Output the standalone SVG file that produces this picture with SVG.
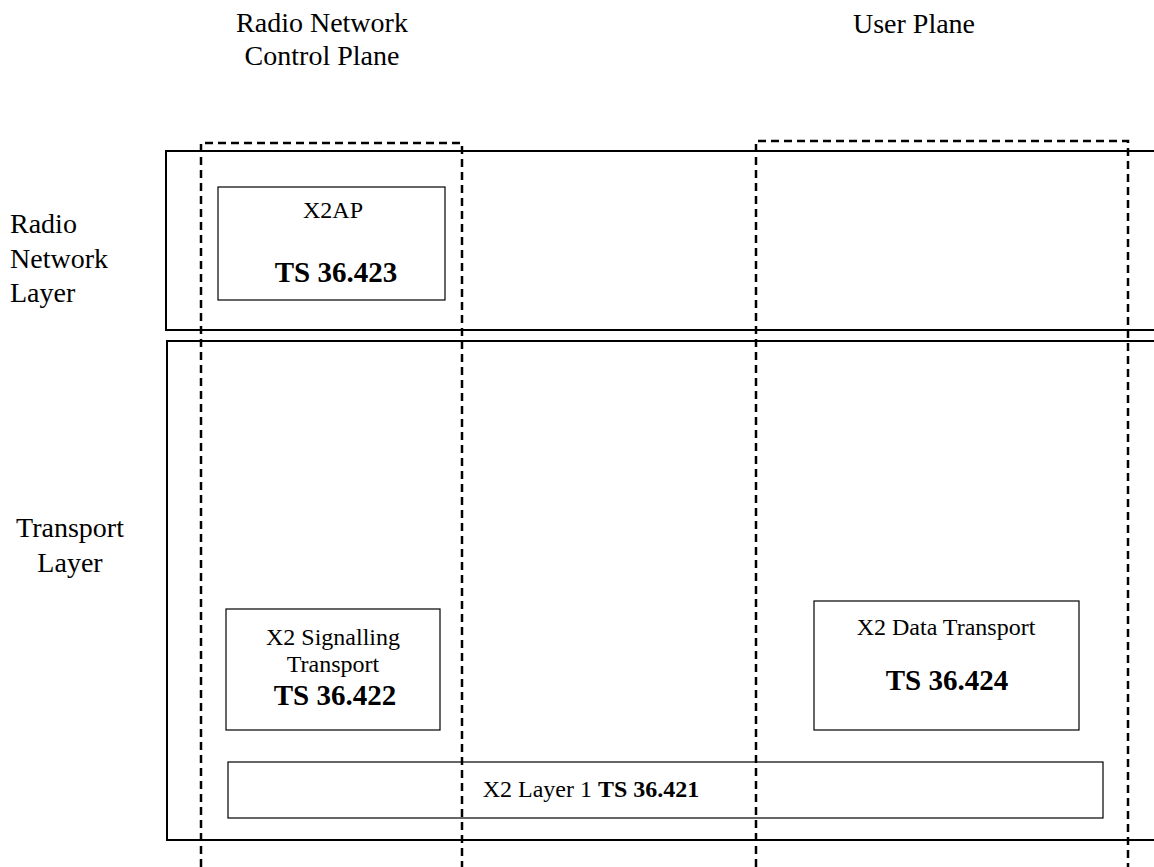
<svg xmlns="http://www.w3.org/2000/svg" width="1154" height="867" viewBox="0 0 1154 867">
<style>
text{font-family:"Liberation Serif","Times New Roman",serif;fill:#000}
.lbl{font-size:28px}
.n{font-size:24px}
.b{font-size:29px;font-weight:bold}
.layer{fill:none;stroke:#000;stroke-width:2}
.box{fill:none;stroke:#000;stroke-width:1.2}
.dash{fill:none;stroke:#000;stroke-width:2.5;stroke-dasharray:8 5}
</style>
<rect width="1154" height="867" fill="#fff"/>
<g id="labels">
<text class="lbl" x="322" y="32" text-anchor="middle">Radio Network</text>
<text class="lbl" x="322" y="65" text-anchor="middle">Control Plane</text>
<text class="lbl" x="914" y="33" text-anchor="middle">User Plane</text>
<text class="lbl" x="10" y="233">Radio</text>
<text class="lbl" x="10" y="268">Network</text>
<text class="lbl" x="10" y="302">Layer</text>
<text class="lbl" x="70" y="537" text-anchor="middle">Transport</text>
<text class="lbl" x="70" y="572" text-anchor="middle">Layer</text>
</g>
<g id="radio-network-layer"><path class="layer" d="M1160 151 H166 V330 H1160"/></g>
<g id="transport-layer"><path class="layer" d="M1160 341 H167 V840 H1160"/></g>
<g id="x2ap">
<rect class="box" x="218" y="187" width="227" height="113"/>
<text class="n" x="333" y="218" text-anchor="middle">X2AP</text>
<text class="b" x="336" y="282" text-anchor="middle">TS 36.423</text>
</g>
<g id="x2-signalling">
<rect class="box" x="226" y="609" width="214" height="121"/>
<text class="n" x="333" y="645" text-anchor="middle">X2 Signalling</text>
<text class="n" x="333" y="672" text-anchor="middle">Transport</text>
<text class="b" x="335" y="705" text-anchor="middle">TS 36.422</text>
</g>
<g id="x2-data">
<rect class="box" x="814" y="601" width="265" height="129"/>
<text class="n" x="946" y="635" text-anchor="middle">X2 Data Transport</text>
<text class="b" x="947" y="690" text-anchor="middle">TS 36.424</text>
</g>
<g id="x2-layer1">
<rect class="box" x="228" y="762" width="875" height="56"/>
<text class="n" x="591" y="797" text-anchor="middle">X2 Layer 1 <tspan font-weight="bold">TS 36.421</tspan></text>
</g>
<g id="planes">
<path class="dash" d="M201 867 V143 H462 V867"/>
<path class="dash" d="M756 867 V141 H1128 V867"/>
</g>
</svg>
